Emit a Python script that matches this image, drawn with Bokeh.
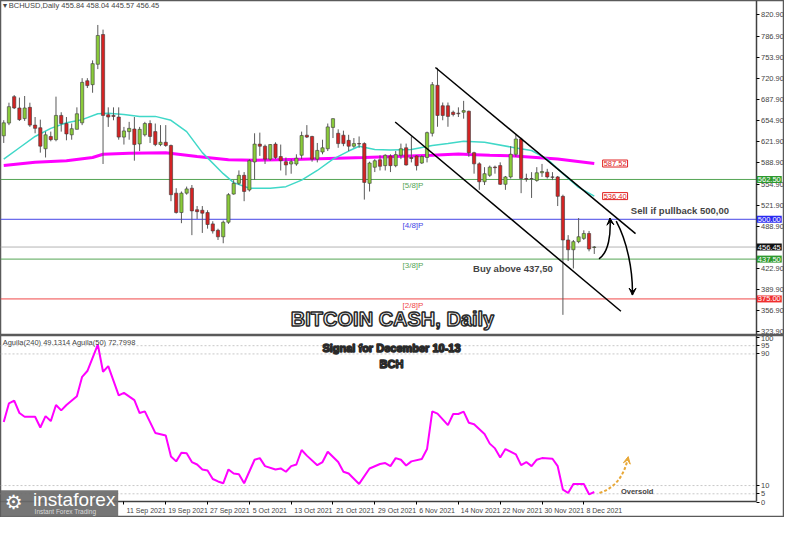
from bokeh.plotting import figure
from bokeh.layouts import column
from bokeh.models import (Range1d, FixedTicker, PrintfTickFormatter, Label,
                          ColumnDataSource, Arrow, VeeHead, LinearAxis, BoxAnnotation)
from bokeh.core.properties import value
from bokeh.embed import file_html
from bokeh.resources import INLINE

# ---------------- data ----------------
opens = [631.0, 651.0, 692.5, 674.7, 658.0, 675.7, 647.8, 643.7, 610.7, 630.0,
         625.0, 663.0, 650.3, 632.6, 641.2, 651.4, 717.4, 711.3, 743.3, 790.0,
         664.0, 663.0, 660.5, 629.0, 637.6, 641.7, 618.3, 632.6, 650.3, 637.6,
         617.3, 620.9, 615.8, 541.0, 510.6, 541.0, 548.8, 515.0, 514.2, 510.6,
         492.8, 482.7, 472.5, 495.4, 539.6, 556.4, 569.0, 546.0, 590.0, 618.0,
         614.7, 594.4, 618.0, 598.5, 590.4, 586.8, 586.8, 600.5, 632.0, 630.0,
         594.4, 605.6, 610.7, 644.2, 635.0, 632.0, 623.9, 614.7, 618.8, 618.8,
         556.4, 581.7, 593.4, 584.2, 599.5, 584.2, 600.5, 612.2, 597.0, 599.5,
         588.3, 597.0, 635.0, 710.3, 678.2, 678.2, 668.0, 666.6, 668.1, 669.6,
         604.6, 587.0, 558.9, 569.0, 582.0, 584.3, 554.9, 566.5, 602.0, 626.0,
         564.0, 564.0, 561.0, 573.0, 574.0, 566.5, 566.5, 536.0, 467.5, 452.2,
         464.9, 470.0, 477.7, 455.84]
highs = [655.5, 683.0, 695.0, 691.0, 693.5, 683.0, 660.5, 656.4, 637.6, 637.6,
         692.5, 668.0, 660.5, 650.3, 675.7, 721.5, 721.5, 749.4, 805.0, 797.7,
         675.7, 675.7, 675.7, 645.0, 652.9, 660.5, 645.0, 652.9, 655.4, 650.3,
         647.8, 647.8, 617.3, 548.8, 543.6, 551.3, 553.8, 520.8, 520.8, 514.2,
         496.9, 485.2, 498.0, 541.0, 561.4, 576.7, 574.1, 594.5, 635.0, 636.0,
         617.3, 617.8, 620.8, 617.3, 597.0, 594.4, 602.0, 637.6, 647.8, 631.0,
         619.8, 624.9, 650.3, 658.5, 641.2, 639.1, 632.6, 627.5, 630.0, 620.8,
         590.4, 594.4, 600.5, 602.0, 602.0, 607.1, 618.8, 618.8, 630.0, 600.5,
         600.5, 637.6, 715.4, 737.7, 683.3, 683.3, 670.6, 675.7, 685.9, 670.6,
         606.0, 589.4, 581.8, 584.3, 584.3, 589.4, 568.0, 614.8, 633.0, 628.0,
         571.6, 574.0, 581.8, 586.9, 579.2, 574.0, 568.0, 538.6, 475.1, 467.5,
         502.0, 482.7, 481.7, 458.04]
lows = [619.8, 647.8, 673.0, 654.4, 654.4, 645.0, 635.0, 604.6, 597.0, 622.4,
        622.4, 637.6, 624.0, 624.9, 641.0, 647.8, 706.0, 698.6, 735.7, 586.8,
        645.0, 655.4, 624.9, 617.3, 624.9, 592.0, 607.0, 630.0, 619.8, 614.8,
        614.8, 613.8, 528.4, 509.0, 493.9, 538.6, 475.1, 500.5, 478.6, 485.3,
        477.6, 467.5, 462.4, 492.8, 538.6, 553.8, 528.4, 543.6, 562.0, 599.5,
        586.8, 591.9, 594.4, 576.6, 569.0, 571.5, 584.0, 594.4, 627.5, 590.4,
        589.3, 602.0, 607.1, 627.5, 612.2, 614.7, 607.1, 612.2, 612.2, 530.9,
        543.6, 574.1, 576.6, 576.6, 574.1, 581.7, 594.4, 584.2, 589.3, 576.6,
        586.8, 589.3, 630.0, 645.2, 655.4, 645.2, 661.5, 660.5, 657.9, 598.0,
        571.6, 546.2, 553.8, 566.5, 571.6, 553.8, 546.2, 564.0, 598.0, 541.0,
        559.0, 533.5, 558.9, 566.5, 564.0, 561.5, 520.8, 350.0, 434.5, 422.8,
        462.4, 467.5, 449.7, 445.57]
closes = [651.4, 676.8, 674.7, 656.4, 674.7, 647.8, 642.7, 614.8, 632.6, 625.0,
          663.0, 650.3, 634.0, 642.2, 665.6, 714.9, 709.8, 744.3, 788.5, 663.0,
          660.5, 661.5, 629.0, 638.7, 642.7, 617.3, 641.2, 650.3, 630.0, 617.3,
          620.9, 615.8, 538.6, 510.6, 541.0, 547.7, 513.2, 512.0, 509.6, 491.8,
          481.7, 472.5, 495.4, 538.6, 556.4, 569.0, 543.7, 592.0, 618.0, 614.7,
          594.4, 617.3, 597.0, 592.0, 585.3, 590.4, 595.9, 631.5, 629.0, 594.4,
          608.1, 612.2, 645.0, 657.9, 618.8, 618.8, 614.7, 618.8, 618.3, 557.9,
          588.3, 591.9, 583.2, 600.5, 584.2, 601.5, 610.7, 585.3, 595.4, 584.2,
          598.5, 636.0, 711.3, 663.0, 663.0, 661.5, 664.5, 665.6, 670.6, 604.6,
          587.0, 558.9, 571.6, 581.8, 581.0, 554.9, 566.5, 602.1, 626.0, 564.0,
          563.0, 563.5, 573.0, 575.0, 566.5, 566.0, 536.0, 467.5, 452.2, 464.9,
          472.6, 477.7, 453.3, 456.45]
candle_idx = list(range(1, len(opens) + 1))

fast_ma_idx = [1, 4, 7, 10, 13, 16, 19, 21, 24, 27, 30, 33, 36, 39, 43, 45, 48,
               52, 55, 58, 61, 64, 67, 69, 72, 75, 79, 83, 86, 89, 93, 99, 102,
               105, 108, 111, 114]
fast_ma_val = [594.5, 612.3, 630.0, 642.7, 651.4, 656.4, 665.6, 666.6, 664.6,
               661.5, 661.5, 655.4, 637.6, 604.6, 571.6, 557.5, 548.7, 548.7,
               551.2, 561.4, 576.6, 594.4, 607.1, 614.7, 609.7, 608.6, 609.7,
               615.8, 618.8, 622.4, 620.8, 612.0, 608.0, 594.5, 571.6, 550.0,
               536.4]
slow_ma_idx = [1, 7, 13, 18, 20, 25, 32, 38, 44, 49, 58, 70, 83, 88, 90, 94,
               98, 107, 114]
slow_ma_val = [584.3, 589.4, 592.0, 597.0, 602.0, 603.6, 604.6, 598.5, 593.4,
               592.5, 594.4, 597.0, 600.5, 602.5, 601.5, 600.5, 599.6, 594.5,
               587.5]

levels = [562.5, 500.0, 437.5, 375.0]
level_names = ["[5/8]P", "[4/8]P", "[3/8]P", "[2/8]P"]
level_tags = ["562.50", "500.00", "437.50", "375.00"]
last_price = 456.45
ma_tag_values = [587.52, 536.40]

price_ticks = [323.9, 356.9, 389.9, 422.9, 488.9, 521.9, 554.9, 588.9, 621.9,
               654.9, 687.9, 720.9, 753.9, 786.9, 820.9]

osc_idx = [1, 2, 3, 4, 5, 7, 8, 9, 10, 11, 12, 13, 15, 16, 17, 19, 20, 21, 23,
           24, 26, 27, 28, 30, 32, 33, 34, 35, 36, 37, 38, 39, 40, 41, 42, 43,
           44, 45, 46, 47, 49, 50, 51, 53, 54, 55, 56, 57, 58, 59, 61, 62, 63,
           65, 66, 67, 69, 71, 73, 74, 75, 76, 77, 78, 79, 81, 82, 83, 84, 86,
           87, 88, 89, 90, 91, 93, 94, 95, 96, 97, 99, 100, 101, 102, 103, 104,
           106, 107, 108, 109, 110, 112, 113, 114]
osc_val = [48.6, 60.0, 61.6, 54.1, 51.8, 51.8, 45.3, 52.2, 49.2, 59.0, 55.7,
           59.0, 64.3, 76.1, 79.6, 95.7, 79.2, 82.6, 64.8, 66.3, 61.9, 54.1,
           55.1, 42.0, 40.4, 27.7, 24.7, 30.0, 29.6, 24.3, 22.8, 19.8, 19.2,
           14.0, 12.5, 11.4, 19.8, 17.3, 16.9, 11.4, 25.7, 26.7, 21.8, 19.8,
           20.4, 18.4, 21.8, 22.8, 31.6, 28.2, 22.4, 24.3, 30.6, 24.3, 18.4,
           17.3, 11.0, 20.4, 23.1, 23.7, 21.8, 26.7, 25.7, 22.2, 24.7, 26.1,
           32.2, 55.1, 53.7, 46.7, 53.5, 53.5, 54.9, 48.2, 47.3, 41.4, 35.5,
           32.6, 27.1, 32.2, 29.0, 22.4, 24.3, 21.8, 25.7, 26.7, 26.3, 21.8,
           7.5, 5.5, 11.0, 11.0, 4.7, 6.1]
osc_ticks = [0, 5, 10, 90, 95, 100]
osc_levels = [5, 10, 90, 95]

date_idx = [24, 32, 40, 48, 56, 64, 72, 80, 88, 96, 104, 112]
date_labels = ["11 Sep 2021", "19 Sep 2021", "27 Sep 2021", "5 Oct 2021",
               "13 Oct 2021", "21 Oct 2021", "29 Oct 2021", "6 Nov 2021",
               "14 Nov 2021", "22 Nov 2021", "30 Nov 2021", "8 Dec 2021"]

# annotation geometry (candle index, price)
chan_up_x, chan_up_y = [83.6, 121.9], [738.2, 477.6]
chan_lo_x, chan_lo_y = [75.9, 119.1], [652.7, 355.7]

# ---------------- layout constants ----------------
FONT = "Liberation Sans"
BULL, BEAR = "#8ACB3A", "#D42323"
W = 784
X0, X1 = 0.38, 150.4          # full canvas width in candle units
AXIS_X = 144.95               # where the price scale sits
PY0, PY1 = 317.6, 843.4       # price panel vertical extent
OY0, OY1 = -9.4, 101.2        # oscillator panel vertical extent
OSC_AXIS_Y = 0.4
px_per_unit = W / (X1 - X0)
x_range = Range1d(X0, X1)


def style_fig(f):
    f.background_fill_color = "white"
    f.border_fill_color = "white"
    f.outline_line_color = "#5A5A5A"
    f.outline_line_width = 1.5
    f.xgrid.visible = False
    f.ygrid.visible = False


def price_axis(ticks, fmt, lo, hi):
    ax = LinearAxis(fixed_location=AXIS_X, bounds=(lo, hi))
    ax.ticker = FixedTicker(ticks=ticks)
    ax.formatter = PrintfTickFormatter(format=fmt)
    ax.major_label_text_font = FONT
    ax.major_label_text_font_size = "7.5px"
    ax.major_tick_out = 3
    ax.major_tick_in = 0
    ax.minor_tick_line_color = None
    ax.major_label_standoff = 2
    ax.axis_line_color = "#404040"
    ax.axis_line_width = 1.5
    return ax


p = figure(width=W, height=335, x_range=x_range, y_range=Range1d(PY0, PY1),
           output_backend="svg", toolbar_location=None, y_axis_location=None,
           x_axis_location=None, min_border=0, min_border_left=0, min_border_right=0,
           min_border_top=0, min_border_bottom=0)
style_fig(p)
p.add_layout(price_axis(price_ticks, "%.2f", PY0, PY1), "right")

# levels
level_colors = ["#55A555", "#4646E6", "#55A555", "#F04848"]
for lv, c in zip(levels, level_colors):
    p.segment(x0=[X0], y0=[lv], x1=[AXIS_X], y1=[lv], line_color=c, line_width=1)
p.segment(x0=[X0], y0=[last_price], x1=[AXIS_X], y1=[last_price],
          line_color="#B4B4B4", line_width=1)
lsrc = ColumnDataSource(dict(x=[77.3] * 4, y=levels, t=level_names, c=level_colors))
p.text(x="x", y="y", text="t", text_color="c", source=lsrc, text_baseline="top",
       y_offset=2, text_font_size="8px", text_font=value(FONT))

# moving averages
p.line(slow_ma_idx, slow_ma_val, line_color="#FF00FF", line_width=3)
p.line(fast_ma_idx, fast_ma_val, line_color="#40D8C8", line_width=1.5)

# candles
src = ColumnDataSource(dict(
    x=candle_idx, o=opens, h=highs, l=lows, c=closes,
    top=[max(a, b) for a, b in zip(opens, closes)],
    bot=[min(a, b) for a, b in zip(opens, closes)],
    col=[BULL if c >= o else BEAR for o, c in zip(opens, closes)]))
p.segment(x0="x", y0="l", x1="x", y1="h", source=src, line_color="#5A5A5A", line_width=1)
p.vbar(x="x", width=0.62, top="top", bottom="bot", source=src, fill_color="col",
       line_color="#3A3A3A", line_width=0.6)

# channel
p.line(chan_up_x, chan_up_y, line_color="black", line_width=1.5)
p.line(chan_lo_x, chan_lo_y, line_color="black", line_width=1.5)


def curved_arrow(fig, s, c0, c1, e, color="black", dash="solid", width=1.5):
    fig.bezier(x0=[s[0]], y0=[s[1]], x1=[e[0]], y1=[e[1]], cx0=[c0[0]], cy0=[c0[1]],
               cx1=[c1[0]], cy1=[c1[1]], line_color=color, line_width=width,
               line_dash=dash)
    sx = e[0] - 0.08 * (e[0] - c1[0])
    sy = e[1] - 0.08 * (e[1] - c1[1])
    fig.add_layout(Arrow(end=VeeHead(size=7, line_color=color, fill_color=color),
                         x_start=sx, y_start=sy, x_end=e[0], y_end=e[1],
                         line_color=color, line_width=width))


curved_arrow(p, (114.9, 438.0), (116.8, 448.0), (117.2, 478.0), (117.0, 502.0))
curved_arrow(p, (118.2, 497.0), (120.3, 465.0), (121.4, 420.0), (121.3, 381.0))

# price tags on the scale
tag_colors = ["#2E9A2E", "#2A2AF0", "#2E9A2E", "#F03030"]
for lv, t, c in zip(levels, level_tags, tag_colors):
    p.add_layout(Label(x=AXIS_X + 0.15, y=lv, text=t, text_color="white",
                       background_fill_color=c, text_font=FONT, text_font_size="7.5px",
                       text_baseline="middle", text_align="left", padding=1))
p.add_layout(Label(x=AXIS_X + 0.15, y=last_price, text="%.2f" % last_price,
                   text_color="white", background_fill_color="#111111", text_font=FONT,
                   text_font_size="7.5px", text_baseline="middle", text_align="left",
                   padding=1))
for v in ma_tag_values:
    p.add_layout(Label(x=115.6, y=v, text="%.2f" % v, text_color="#E02020",
                       background_fill_color="white", border_line_color="#E02020",
                       text_font=FONT, text_font_size="7.5px", text_baseline="middle",
                       text_align="left", padding=1))

# texts
p.add_layout(Label(x=0.8, y=835.5, text="\u25be BCHUSD,Daily  455.84 458.04 445.57 456.45",
                   text_font=FONT, text_font_size="7.5px", text_baseline="middle"))
p.add_layout(Label(x=121.0, y=514.0, text="Sell if pullback 500,00", text_font=FONT,
                   text_font_size="9.5px", text_font_style="bold", text_baseline="middle"))
p.add_layout(Label(x=90.8, y=422.7, text="Buy above 437,50", text_font=FONT,
                   text_font_size="9.5px", text_font_style="bold", text_baseline="middle"))
p.add_layout(Label(x=75.4, y=343.5, text="BITCOIN CASH, Daily", text_font=FONT,
                   text_font_size="20px", text_font_style="bold", text_color="white",
                   text_outline_color="#2A2A2A", text_align="center",
                   text_baseline="middle"))

# ---------------- oscillator panel ----------------
q = figure(width=W, height=182, x_range=x_range, y_range=Range1d(OY0, OY1),
           output_backend="svg", toolbar_location=None, y_axis_location=None,
           x_axis_location=None, min_border=0, min_border_left=0, min_border_right=0,
           min_border_top=0, min_border_bottom=0)
style_fig(q)
q.add_layout(price_axis(osc_ticks, "%d", OSC_AXIS_Y, OY1), "right")

label_pos = [i + (3 + len(t) * 3.5 / 2) / px_per_unit for i, t in zip(date_idx, date_labels)]
qx = LinearAxis(fixed_location=OSC_AXIS_Y, bounds=(X0, AXIS_X))
qx.ticker = FixedTicker(ticks=label_pos, minor_ticks=date_idx)
qx.major_label_overrides = {pos: t for pos, t in zip(label_pos, date_labels)}
qx.major_tick_line_color = None
qx.minor_tick_out = 3
qx.minor_tick_in = 0
qx.minor_tick_line_color = "black"
qx.major_label_text_font = FONT
qx.major_label_text_font_size = "7px"
qx.major_label_standoff = 0
qx.axis_line_color = "#404040"
qx.axis_line_width = 1.5
q.add_layout(qx, "below")

for lv in osc_levels:
    q.segment(x0=[X0], y0=[lv], x1=[AXIS_X], y1=[lv], line_color="#C8C8C8",
              line_width=1, line_dash="2 2")
q.line(osc_idx, osc_val, line_color="#FF00FF", line_width=2)

q.add_layout(Label(x=0.8, y=97.0, text="Aguila(240) 49.1314  Aguila(50) 72.7998",
                   text_font=FONT, text_font_size="7.5px", text_baseline="middle"))
q.add_layout(Label(x=75.2, y=93.5, text="Signal for December 10-13", text_font=FONT,
                   text_font_size="11px", text_font_style="bold", text_color="white",
                   text_outline_color="#2A2A2A", text_align="center", text_baseline="middle"))
q.add_layout(Label(x=75.2, y=84.0, text="BCH", text_font=FONT,
                   text_font_size="11px", text_font_style="bold", text_color="white",
                   text_outline_color="#2A2A2A", text_align="center", text_baseline="middle"))
q.add_layout(Label(x=119.1, y=6.6, text="Oversold", text_font=FONT,
                   text_font_size="7.5px", text_font_style="bold", text_baseline="middle"))
curved_arrow(q, (115.0, 5.5), (118.3, 9.0), (119.8, 16.9), (120.5, 27.6),
             color="#E8A838", dash="3 2", width=2)

# logo
q.add_layout(BoxAnnotation(left=X0, right=22.9, bottom=OY0, top=7.1,
                           fill_color="#6A6A6A", fill_alpha=0.92, line_color=None))
q.add_layout(Label(x=1.2, y=0.0, text="\u2699", text_font="DejaVu Sans",
                   text_font_size="20px", text_color="white", text_baseline="middle",
                   text_align="left"))
q.add_layout(Label(x=6.6, y=1.6, text="instaforex", text_font=FONT,
                   text_font_size="19px", text_color="white", text_baseline="middle",
                   text_align="left"))
q.add_layout(Label(x=6.9, y=-6.0, text="Instant Forex Trading", text_font=FONT,
                   text_font_size="6.5px", text_color="#DADADA", text_baseline="middle",
                   text_align="left"))

layout = column(p, q, spacing=0)
open("out.html", "w").write(file_html(layout, INLINE))
